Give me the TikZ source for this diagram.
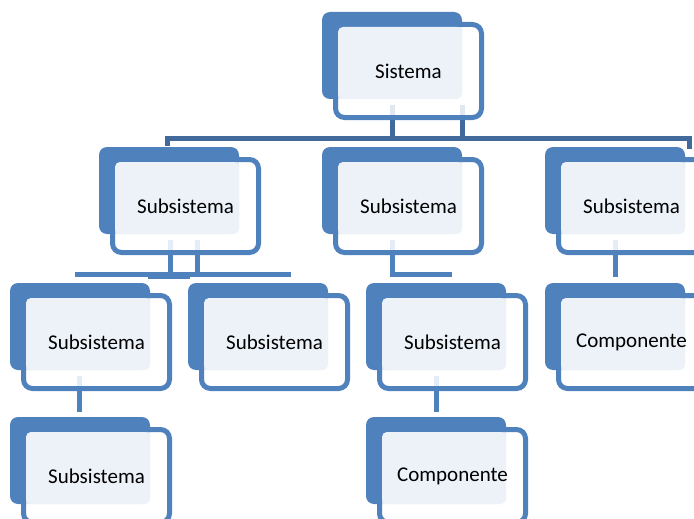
\documentclass[tikz,border=0pt]{standalone}
\usepackage{fontspec}
\setmainfont{Carlito}
\usetikzlibrary{calc}
\pgfdeclarelayer{background}
\pgfsetlayers{background,main}
\definecolor{boxblue}{HTML}{4F81BD}
\definecolor{barblue}{HTML}{41699C}
\definecolor{lightfill}{HTML}{EDF2F9}
\tikzset{
  backbox/.style={draw=none, fill=boxblue, rounded corners=8pt, minimum width=140pt, minimum height=87pt, anchor=north west, inner sep=0pt, outer sep=0pt},
  framebox/.style={draw=boxblue, line width=5pt, fill=white, fill opacity=0.85, rounded corners=9pt, minimum width=146pt, minimum height=93pt, inner sep=0pt, outer sep=0pt, anchor=north west},
  lightbox/.style={draw=none, fill=lightfill, rounded corners=5pt, minimum width=124pt, minimum height=72pt, inner sep=0pt, outer sep=0pt, anchor=north west},
  txt/.style={font=\fontsize{21}{25}\selectfont, text=black, inner sep=0pt},
  conn/.style={draw=boxblue, line width=5pt},
  topconn/.style={draw=barblue, line width=5pt},
}
\newcommand\hnode[4]{%
  \node[backbox] (#1-b) at (#2,#3) {};
  \node[framebox] (#1-f) at (#2+13.5,#3+12.5) {};
  \node[lightbox] (#1-l) at (#2+16,#3+15) {};
  \node[txt] (#1) at (#2+86.5,#3+59) {#4};
}
\begin{document}
\begin{tikzpicture}[x=1pt,y=-1pt]
\useasboundingbox (0,0) rectangle (694,519);
\clip (0,0) rectangle (694,519);
% nodes
\hnode{S}{322}{12}{Sistema}
\hnode{A}{99}{147}{Subsistema}
\hnode{B}{322}{147}{Subsistema}
\hnode{C}{545}{147}{Subsistema}
\hnode{D}{10}{283}{Subsistema}
\hnode{E}{188}{283}{Subsistema}
\hnode{F}{366}{283}{Subsistema}
\hnode{G}{545}{283}{Componente}
\hnode{H}{10}{417}{Subsistema}
\hnode{I}{366}{417}{Componente}
% connectors
\begin{pgfonlayer}{background}
  \coordinate (barS) at (0,138);
  \coordinate (barA) at (0,274);
  \coordinate (s1) at (392,105);
  \coordinate (s2) at (462,105);
  \coordinate (sL) at (167,146);
  \coordinate (sR) at (689,149);
  \draw[topconn] (s1) -- (s1 |- barS);
  \draw[topconn] (s2) -- (s2 |- barS);
  \draw[topconn] (sL) -- (sL |- barS) -- (sR |- barS) -- (sR);
  \coordinate (a1) at (170,240);
  \coordinate (a2) at (197,240);
  \coordinate (aL) at (77,277);
  \coordinate (aR) at (288,277);
  \draw[conn] (a1) -- (a1 |- barA);
  \draw[conn] (a2) -- (a2 |- barA);
  \draw[conn] (aL) -- (aL |- barA) -- (aR |- barA) -- (aR);
  \draw[conn] (148,276) -- (190,276);
  \coordinate (b1) at (392,240);
  \coordinate (bR) at (452,274);
  \draw[conn] (b1) |- (bR);
  \coordinate (c1) at (615,240);
  \draw[conn] (c1) -- (615,277);
  \coordinate (d1) at (79,376);
  \draw[conn] (d1) -- (79,412);
  \coordinate (f1) at (436,376);
  \draw[conn] (f1) -- (436,412);
\end{pgfonlayer}
\end{tikzpicture}
\end{document}
